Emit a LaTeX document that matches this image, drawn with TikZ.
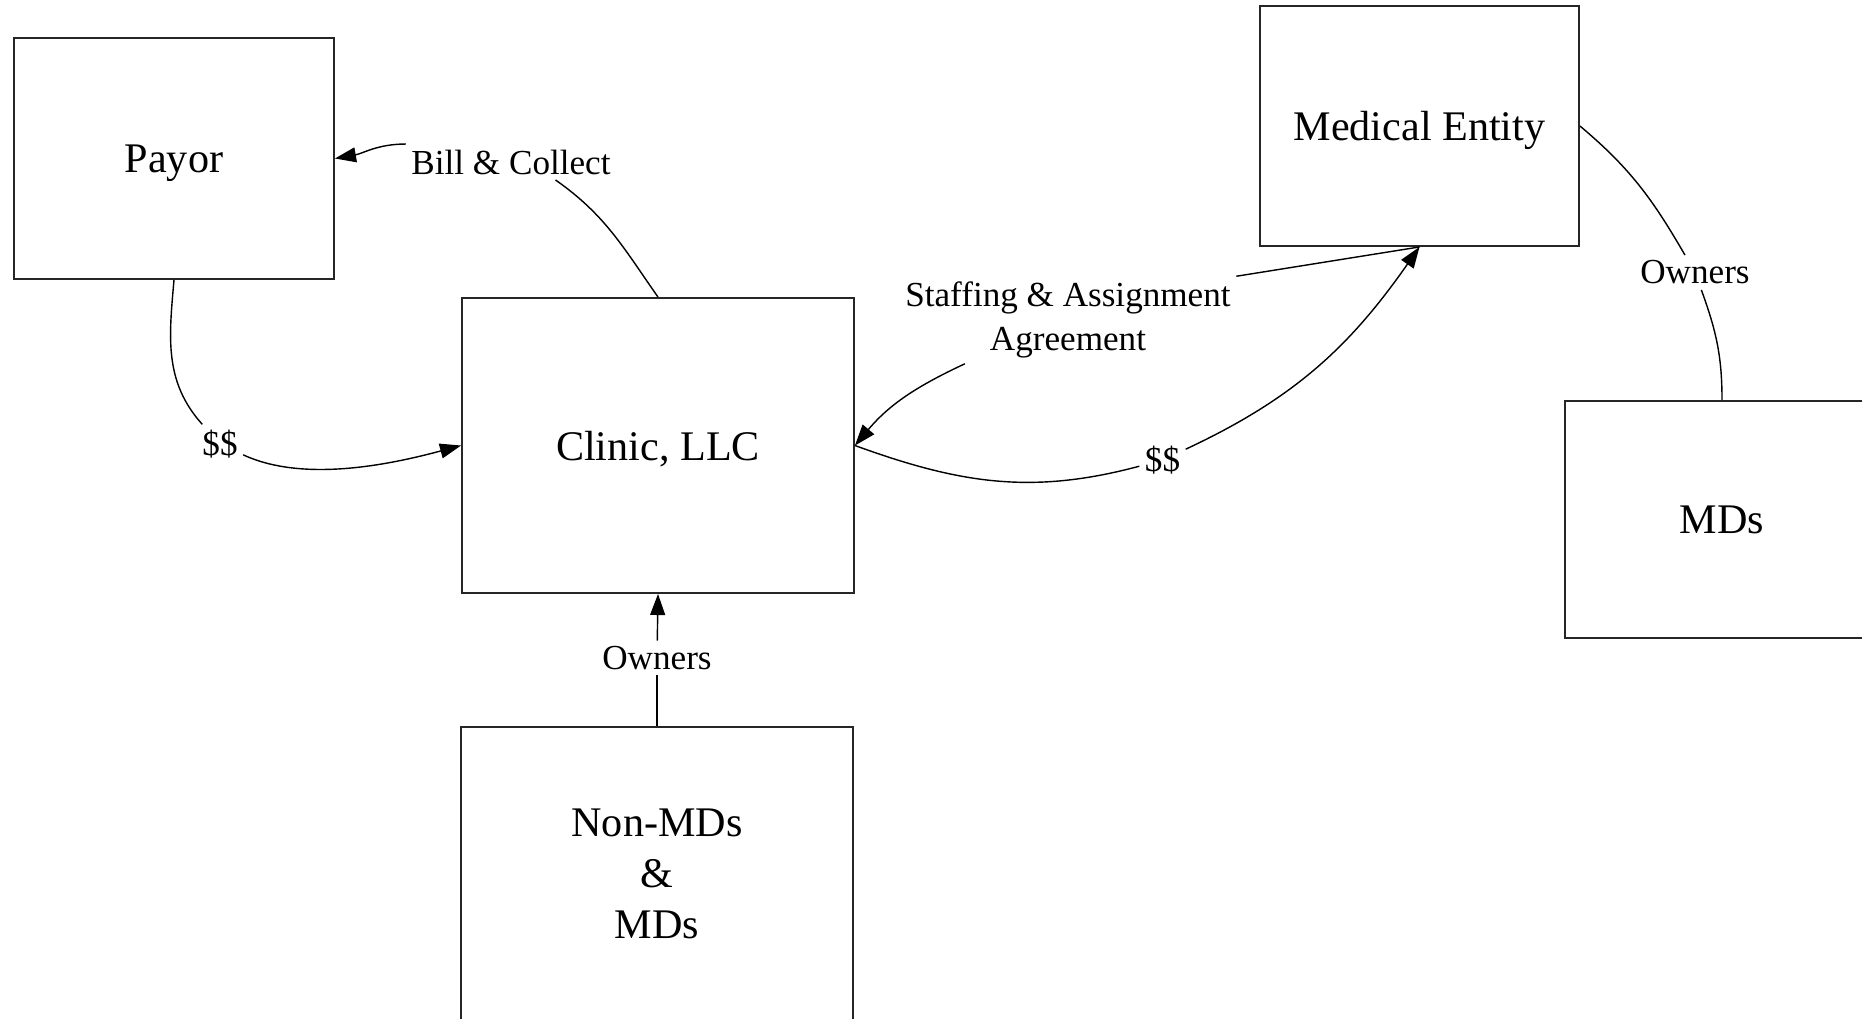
\documentclass[tikz,border=0pt]{standalone}
\usepackage{fontspec}
\setmainfont{Liberation Serif}
\usetikzlibrary{arrows.meta}
\tikzset{
  box/.style={draw=black!85, line width=1.1pt, rectangle, inner sep=0pt,
              font=\fontsize{24}{29}\selectfont, align=center},
  onebox/.style={box, text depth=0pt},
  lbl/.style={inner sep=3pt, font=\fontsize{20}{25}\selectfont, align=center},
  conn/.style={line width=0.8pt},
  arr/.style={conn, -{Triangle[length=12pt,width=8.5pt]}}
}
\begin{document}
\begin{tikzpicture}[x=0.02cm, y=0.02cm]
\useasboundingbox (0,0) rectangle (1862,-1018);
\clip (0,0) rectangle (1862,-1018);
\fill[white] (0,0) rectangle (1862,-1018);
% boxes
\node[onebox, minimum width=6.4cm, minimum height=4.82cm] (payor) at (174,-158.5) {Payor};
\node[onebox, minimum width=7.84cm, minimum height=5.9cm] (clinic) at (658,-445.5) {Clinic, LLC};
\node[onebox, minimum width=6.38cm, minimum height=4.8cm] (medical) at (1419.5,-126) {Medical Entity};
\node[onebox, minimum width=6.28cm, minimum height=4.74cm] (mds) at (1722,-519.5) {MDs};
\node[box, minimum width=7.84cm, minimum height=6cm, anchor=north] (nonmd) at (657,-726)
  {\raisebox{0.34cm}{\begin{tabular}{@{}c@{}}Non-MDs\\\&\\MDs\end{tabular}}};
% labels
\node[lbl] (bill) at (511,-162) {Bill \& Collect};
\node[lbl] (ssA) at (220,-444) {\$\$};
\node[lbl] (ssB) at (1162.5,-460) {\$\$};
\node[lbl] (staff) at (1068,-320) {Staffing \& Assignment\\Agreement};
\node[lbl] (ow1) at (657,-658) {Owners};
\node[lbl] (ow2) at (1695,-272.5) {Owners};
% connectors
\draw[conn] (clinic.north) to[out=125,in=-35] (bill.-22);
\draw[arr] (bill.north west) to[out=180,in=10] (payor.east);
\draw[conn] (payor.south) to[out=-95,in=132] (ssA);
\draw[arr] (ssA) to[out=-25,in=195,looseness=0.8] (clinic.west);
\draw[conn] (clinic.east) to[out=-20,in=195] (ssB);
\draw[arr] (ssB) to[out=25,in=-125] (medical.south);
\draw[conn] (medical.south) -- (staff.north east);
\draw[arr] (staff.-157) to[out=205,in=50] (clinic.east);
\draw[conn] (nonmd.north) -- (ow1);
\draw[arr] (ow1) -- (clinic.south);
\draw[conn] (medical.east) to[out=-40,in=120] (ow2);
\draw[conn] (ow2) to[out=-70,in=90] (mds.north);
\end{tikzpicture}
\end{document}
